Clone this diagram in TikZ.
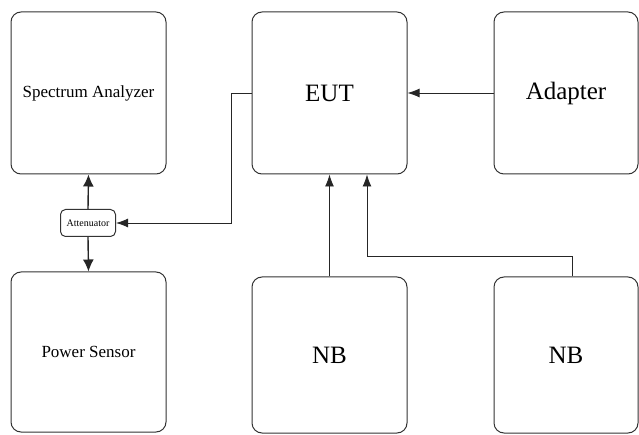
\documentclass[tikz,border=0pt]{standalone}
\usepackage{fontspec}
\setmainfont{Liberation Serif}
\usetikzlibrary{arrows.meta}

\tikzset{
  unit/.style={draw=black!80, line width=1pt, rounded corners=10pt, align=center},
  link/.style={draw=black!85, line width=0.9pt, -{Latex[length=12pt,width=9pt]}},
  biglink/.style={link, line width=1.4pt, -{Latex[length=12pt,width=11pt]}},
}

\begin{document}
\begin{tikzpicture}[x=1pt,y=-1pt]
                \useasboundingbox (0,0) rectangle (639,435);
                % left column
                \node[unit, minimum width=155pt, minimum height=162pt, font=\fontsize{17}{19}\selectfont] (sa) at (88.5,93) {Spectrum Analyzer};
                \node[unit, rounded corners=5pt, minimum width=55pt, minimum height=27pt, inner sep=1pt, font=\fontsize{10}{11}\selectfont] (att) at (88,223) {Attenuator};
                \node[unit, minimum width=155pt, minimum height=160pt, font=\fontsize{17}{19}\selectfont] (ps) at (88.5,352) {Power Sensor};
                % right part
                \node[unit, minimum width=155pt, minimum height=162pt, font=\fontsize{25}{29}\selectfont] (eut) at (329.5,93) {EUT};
                \node[unit, minimum width=144pt, minimum height=162pt, font=\fontsize{25}{29}\selectfont] (adapter) at (566,93) {Adapter};
                \node[unit, minimum width=155pt, minimum height=156pt, font=\fontsize{25}{29}\selectfont] (nbA) at (329.5,355) {NB};
                \node[unit, minimum width=144pt, minimum height=156pt, font=\fontsize{25}{29}\selectfont] (nbB) at (566,355) {NB};
                % connections
                \draw[biglink] (att.north) -- (sa.south);
                \draw[biglink] (att.south) -- (ps.north);
                \draw[link] (eut.west) -- ++(-20,0) |- (att.east);
                \draw[link] (adapter.west) -- (eut.east);
                \draw[link] (nbA.north) -- (eut.south);
                \draw[link] ([xshift=6pt]nbB.north) -- ++(0,-20) -| ([xshift=37.5pt]eut.south);
\end{tikzpicture}
\end{document}
